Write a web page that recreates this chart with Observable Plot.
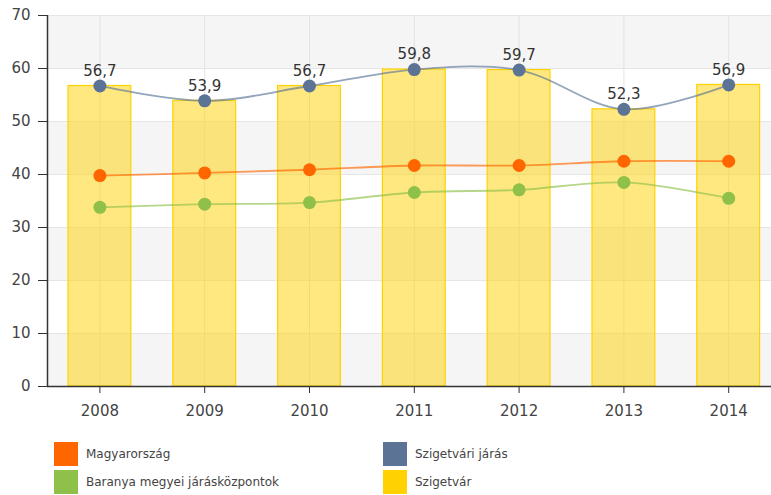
<!DOCTYPE html>
<html>
<head>
<meta charset="utf-8">
<script src="https://cdn.jsdelivr.net/npm/d3@7"></script>
<script src="https://cdn.jsdelivr.net/npm/@observablehq/plot@0.6"></script>
<style>
  body { margin: 0; background: #fff; font-family: "DejaVu Sans", sans-serif; }
  #wrap { position: relative; width: 771px; height: 495px; overflow: hidden; }
  #legend { position: absolute; left: 0; top: 442px; width: 771px; }
  .item { position: absolute; height: 24px; display: flex; align-items: center; font-size: 12px; color: #444; white-space: nowrap; }
  .sw { width: 24px; height: 24px; margin-right: 8px; box-sizing: border-box; }
</style>
</head>
<body>
<div id="wrap"><div id="chart"></div><div id="legend"></div></div>
<script>
const years = [2008, 2009, 2010, 2011, 2012, 2013, 2014];
const magyarorszag = [39.8, 40.3, 40.9, 41.7, 41.7, 42.5, 42.5];
const baranya = [33.8, 34.4, 34.7, 36.6, 37.1, 38.5, 35.5];
const szigetvariJaras = [56.7, 53.9, 56.7, 59.8, 59.7, 52.3, 56.9];
const szigetvar = [56.7, 53.9, 56.7, 59.8, 59.7, 52.3, 56.9];
const yTicks = [0, 10, 20, 30, 40, 50, 60, 70];

const seriesNames = ["Magyarország", "Baranya megyei járásközpontok", "Szigetvári járás", "Szigetvár"];
const seriesColors = ["#ff6600", "#8fc04a", "#5b7496", "#ffd200"];

const lineSeries = [
  {name: seriesNames[0], values: magyarorszag},
  {name: seriesNames[1], values: baranya},
  {name: seriesNames[2], values: szigetvariJaras}
];
const long = lineSeries.flatMap(s => years.map((y, i) => ({year: y, value: s.values[i], series: s.name})));
const bars = years.map((y, i) => ({year: y, value: szigetvar[i]}));
const blue = years.map((y, i) => ({year: y, value: szigetvariJaras[i]}));
const bands = yTicks.slice(0, -1).map((t, i) => ({y1: t, y2: yTicks[i + 1], shade: (yTicks.length - 2 - i) % 2 === 0}));

const fmt = v => v.toFixed(1).replace(".", ",");

const chart = Plot.plot({
  width: 771,
  height: 430,
  marginLeft: 47,
  marginRight: 0,
  marginTop: 15,
  marginBottom: 44,
  style: {fontFamily: "DejaVu Sans, sans-serif", fontSize: "15px", color: "#333", overflow: "hidden", background: "#fff"},
  x: {type: "linear", domain: [2007.5, 2014.5], range: [47, 780.6], axis: null},
  y: {domain: [0, 70], axis: null},
  color: {domain: seriesNames, range: seriesColors},
  marks: [
    Plot.rect(bands, {y1: "y1", y2: "y2", fill: d => d.shade ? "#f5f5f5" : "#ffffff"}),
    Plot.gridY(yTicks, {stroke: "#e6e6e6", strokeOpacity: 1}),
    Plot.gridX(years, {stroke: "#e3e3e3", strokeOpacity: 1}),
    Plot.rectY(bars, {x1: d => d.year - 0.5, x2: d => d.year + 0.5, y: "value", insetLeft: 21, insetRight: 21, fill: "#ffd200", fillOpacity: 0.5, stroke: "#ffd200", strokeWidth: 1.2}),
    Plot.axisY(yTicks, {tickSize: 9, tickPadding: 8, tickFormat: d => String(d), fontSize: 15, fill: "#444", stroke: "#333", label: null}),
    Plot.axisX(years, {tickSize: 7, tickPadding: 12, tickFormat: d => String(d), fontSize: 15, fill: "#444", stroke: "#333", label: null}),
    Plot.ruleX([2007.5], {stroke: "#333", strokeWidth: 1.5}),
    Plot.ruleY([0], {stroke: "#333", strokeWidth: 1.5}),
    Plot.line(long, {x: "year", y: "value", z: "series", stroke: "series", curve: "catmull-rom", strokeWidth: 1.8, strokeOpacity: 0.65}),
    Plot.dot(long, {x: "year", y: "value", fill: "series", r: 6.5}),
    Plot.text(blue, {x: "year", y: "value", text: d => fmt(d.value), dy: -15, fontSize: 15, fill: "#333"})
  ]
});
document.getElementById("chart").appendChild(chart);

const legendPos = [
  {left: 54, top: 0}, {left: 54, top: 28}, {left: 383, top: 0}, {left: 383, top: 28}
];
const legend = document.getElementById("legend");
seriesNames.forEach((name, i) => {
  const it = document.createElement("div");
  it.className = "item";
  it.style.left = legendPos[i].left + "px";
  it.style.top = legendPos[i].top + "px";
  const sw = document.createElement("div");
  sw.className = "sw";
  sw.style.background = seriesColors[i];
  it.appendChild(sw);
  const t = document.createElement("span");
  t.textContent = name;
  it.appendChild(t);
  legend.appendChild(it);
});
</script>
</body>
</html>
